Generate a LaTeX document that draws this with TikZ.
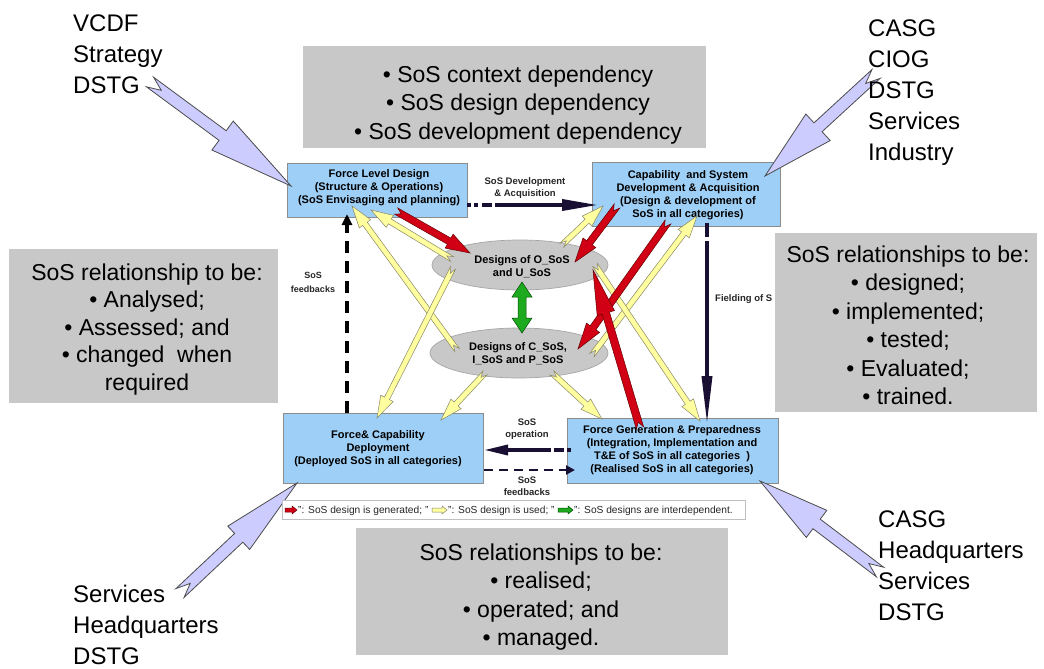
\documentclass[tikz,border=0pt]{standalone}
\usepackage{fontspec}
\setmainfont{Liberation Sans}
\usetikzlibrary{calc,arrows.meta,shapes.geometric}
\definecolor{graybox}{RGB}{200,200,200}
\definecolor{bluebox}{RGB}{158,207,246}
\definecolor{lav}{RGB}{204,204,255}
\definecolor{yel}{RGB}{255,255,160}
\definecolor{redar}{RGB}{210,0,20}
\definecolor{navy}{RGB}{25,15,50}
\definecolor{grn}{RGB}{30,170,30}
\newcommand{\fatarrow}[7]{%
  \coordinate (fah) at ($(#3)!#6!(#2)$);
  \coordinate (fan) at ($(#2)!#7!(#3)$);
  \filldraw[#1] ($(#2)!#4!90:(#3)$) -- ($(fah)!#4!90:(#3)$) -- ($(fah)!#5!90:(#3)$) -- (#3) -- ($(fah)!#5!-90:(#3)$) -- ($(fah)!#4!-90:(#3)$) -- ($(#2)!#4!-90:(#3)$) -- (fan) -- cycle;}
\tikzset{
  gbox/.style={fill=graybox, draw=none, inner sep=0, rectangle},
  gtext/.style={font=\fontsize{23}{28.5}\selectfont, inner sep=0, anchor=base},
  stk/.style={font=\fontsize{24}{31}\selectfont, inner sep=0, anchor=base west},
  bbox/.style={fill=bluebox, draw=black!45, line width=0.7pt, rectangle, inner sep=0},
  btext/.style={font=\bfseries\fontsize{11}{13.3}\selectfont, inner sep=0, anchor=base},
  ell/.style={ellipse, fill=graybox, draw=black!35, line width=0.7pt, inner sep=0},
  lbl/.style={font=\bfseries\fontsize{9.5}{12.5}\selectfont, text=black!85, inner sep=0, anchor=base},
  blk/.style={draw=navy, line width=3.5pt},
  yarr/.style={fill=yel, draw=black!55!yellow!60!gray, line width=0.5pt},
  rarr/.style={fill=redar, draw=red!40!black, line width=0.5pt},
  larr/.style={fill=lav, draw=black!70, line width=0.8pt},
  garr/.style={fill=grn, draw=green!30!black, line width=0.5pt},
  legtext/.style={font=\fontsize{10.2}{11}\selectfont, inner sep=0, anchor=base west, text=black!85},
}
\begin{document}
\begin{tikzpicture}[x=1pt,y=-1pt]
\useasboundingbox (0,0) rectangle (1044,669);
\fill[white] (0,0) rectangle (1044,669);

% blue boxes
\node[bbox, minimum width=180pt, minimum height=54pt] (fld) at (377.5,190) {};
\node[bbox, minimum width=188pt, minimum height=64pt] (csda) at (686,194.5) {};
\node[bbox, minimum width=200pt, minimum height=70pt] (fcd) at (383,448) {};
\node[bbox, minimum width=211pt, minimum height=65pt] (fgp) at (672.5,450.5) {};
\node[btext] (fldt) at (379,177) {\begin{tabular}[t]{@{}c@{}}Force Level Design\\(Structure \& Operations)\\(SoS Envisaging and planning)\end{tabular}};
\node[btext] (csdat) at (688,178) {\begin{tabular}[t]{@{}c@{}}Capability\ \ and System\\Development \& Acquisition\\(Design \& development of\\SoS in all categories)\end{tabular}};
\node[btext] (fcdt) at (378,438) {\begin{tabular}[t]{@{}c@{}}Force\& Capability\\Deployment\\(Deployed SoS in all categories)\end{tabular}};
\node[btext] (fgpt) at (672,433) {\begin{tabular}[t]{@{}c@{}}Force Generation \& Preparedness\\(Integration, Implementation and\\T\&E of SoS in all categories\ \ )\\(Realised SoS in all categories)\end{tabular}};

% ellipses
\node[ell, minimum width=176pt, minimum height=50pt] (eu) at (520,265) {};
\node[ell, minimum width=178pt, minimum height=50pt] (el) at (519,353) {};
\node[btext] (eut) at (522,263) {\begin{tabular}[t]{@{}c@{}}Designs of O\_SoS\\and U\_SoS\end{tabular}};
\node[btext] (elt) at (518,350) {\begin{tabular}[t]{@{}c@{}}Designs of C\_SoS,\\I\_SoS and P\_SoS\end{tabular}};

% black connectors
\coordinate (a1s) at (467,205);
\coordinate (a1e) at (598,205);
\draw[blk, dash pattern=on 4pt off 3pt on 4pt off 4pt on 10pt off 3pt on 400pt, -{Triangle[length=36pt,width=11pt]}] (a1s) -- (a1e);
\coordinate (a2s) at (707,223);
\coordinate (a2e) at (707,424);
\draw[blk, dash pattern=on 14pt off 4pt on 400pt, -{Triangle[length=48pt,width=10pt]}] (a2s) -- (a2e);
\coordinate (a3s) at (571,450);
\coordinate (a3e) at (484,450);
\draw[blk, dash pattern=on 4pt off 3pt on 10pt off 3pt on 400pt, -{Triangle[length=24pt,width=10pt]}] (a3s) -- (a3e);
\coordinate (a4s) at (484,470);
\coordinate (a4e) at (575,470);
\draw[navy, line width=2.6pt, dash pattern=on 9pt off 6pt, -{Triangle[length=9pt,width=9pt]}] (a4s) -- (a4e);
\coordinate (a5s) at (347,413);
\coordinate (a5e) at (347,214);
\draw[black, line width=3.5pt, dash pattern=on 12pt off 8pt, -{Triangle[length=11pt,width=10pt]}] (a5s) -- (a5e);

% connector labels
\node[lbl] (l1) at (525,184) {\begin{tabular}[t]{@{}c@{}}SoS Development\\\& Acquisition\end{tabular}};
\node[lbl] (l2) at (527,425) {\begin{tabular}[t]{@{}c@{}}SoS\\operation\end{tabular}};
\node[lbl] (l3) at (527,483) {\begin{tabular}[t]{@{}c@{}}SoS\\feedbacks\end{tabular}};
\node[lbl, font=\bfseries\fontsize{9}{14}\selectfont] (l4) at (313,278) {\begin{tabular}[t]{@{}c@{}}SoS\\feedbacks\end{tabular}};
\node[lbl, anchor=base west] (l5) at (715,301) {Fielding of S};

% yellow arrows (design is used)
\coordinate (y1t) at (452,259); \coordinate (y1h) at (371,210);
\coordinate (y2t) at (457,350); \coordinate (y2h) at (352,206);
\coordinate (y3t) at (453,268); \coordinate (y3h) at (377,418);
\coordinate (y4t) at (485,373); \coordinate (y4h) at (441,420);
\coordinate (y5t) at (562,245); \coordinate (y5h) at (603,206);
\coordinate (y6t) at (592,355); \coordinate (y6h) at (697,216);
\coordinate (y7t) at (595,265); \coordinate (y7h) at (700,421);
\coordinate (y8t) at (552,373); \coordinate (y8h) at (602,419);
\foreach \n in {1,...,8}{\fatarrow{yarr}{y\n t}{y\n h}{2.8pt}{7pt}{22pt}{6pt}}

% red arrows (design is generated)
\coordinate (r1t) at (396,211); \coordinate (r1h) at (470,253);
\coordinate (r2t) at (617,206); \coordinate (r2h) at (575,262);
\coordinate (r3t) at (668,222); \coordinate (r3h) at (578,349);
\coordinate (r4t) at (640,428); \coordinate (r4h) at (593,270);
\fatarrow{rarr}{r1t}{r1h}{3.5pt}{8pt}{24pt}{6pt}
\fatarrow{rarr}{r2t}{r2h}{3.5pt}{8pt}{24pt}{6pt}
\fatarrow{rarr}{r3t}{r3h}{3.5pt}{8pt}{26pt}{6pt}
\fatarrow{rarr}{r4t}{r4h}{3.8pt}{9pt}{45pt}{6pt}

% green interdependence arrow
\coordinate (g1) at (522,282);
\coordinate (g2) at (522,333);
\filldraw[garr] (g1) -- ($(g1)+(10,15)$) -- ($(g1)+(4,15)$) -- ($(g2)+(4,-15)$) -- ($(g2)+(10,-15)$) -- (g2) -- ($(g2)+(-10,-15)$) -- ($(g2)+(-4,-15)$) -- ($(g1)+(-4,15)$) -- ($(g1)+(-10,15)$) -- cycle;

% lavender stakeholder arrows
\coordinate (l1t) at (150,82);  \coordinate (l1h) at (291,186);
\coordinate (l2t) at (876,74);  \coordinate (l2h) at (765,176);
\coordinate (l3t) at (180,593); \coordinate (l3h) at (297,483);
\coordinate (l4t) at (880,572); \coordinate (l4h) at (760,481);
\fatarrow{larr}{l1t}{l1h}{6pt}{18pt}{85pt}{14pt}
\fatarrow{larr}{l2t}{l2h}{6pt}{18pt}{72pt}{14pt}
\fatarrow{larr}{l3t}{l3h}{6pt}{16pt}{80pt}{14pt}
\fatarrow{larr}{l4t}{l4h}{6pt}{17pt}{71pt}{14pt}

% gray boxes
\node[gbox, minimum width=403pt, minimum height=102pt] (gtop) at (504.5,97) {};
\node[gbox, minimum width=269pt, minimum height=154pt] (gleft) at (143.5,326) {};
\node[gbox, minimum width=262pt, minimum height=179pt] (gright) at (906,322.5) {};
\node[gbox, minimum width=372pt, minimum height=127pt] (gbot) at (542,591.5) {};
\node[gtext] (gtopt) at (518,82) {\begin{tabular}[t]{@{}c@{}}• SoS context dependency\\• SoS design dependency\\• SoS development dependency\end{tabular}};
\node[gtext, font=\fontsize{23}{27.5}\selectfont] (gleftt) at (147,280) {\begin{tabular}[t]{@{}c@{}}SoS relationship to be:\\• Analysed;\\• Assessed; and\\• changed\ \ when\\required\end{tabular}};
\node[gtext] (grightt) at (908,262) {\begin{tabular}[t]{@{}c@{}}SoS relationships to be:\\• designed;\\• implemented;\\• tested;\\• Evaluated;\\• trained.\end{tabular}};
\node[gtext] (gbott) at (541,560) {\begin{tabular}[t]{@{}c@{}}SoS relationships to be:\\• realised;\\• operated; and\\• managed.\end{tabular}};

% stakeholders
\node[stk] (s1) at (73,32) {\begin{tabular}[t]{@{}l@{}}VCDF\\Strategy\\DSTG\end{tabular}};
\node[stk] (s2) at (868,37) {\begin{tabular}[t]{@{}l@{}}CASG\\CIOG\\DSTG\\Services\\Industry\end{tabular}};
\node[stk] (s3) at (73,602) {\begin{tabular}[t]{@{}l@{}}Services\\Headquarters\\DSTG\end{tabular}};
\node[stk] (s4) at (878,527) {\begin{tabular}[t]{@{}l@{}}CASG\\Headquarters\\Services\\DSTG\end{tabular}};

% legend
\node[rectangle, draw=black!25, fill=white, line width=0.6pt, minimum width=463pt, minimum height=19pt, inner sep=0] (leg) at (513.5,509.5) {};
\coordinate (k1t) at (285,510); \coordinate (k1h) at (297,510);
\coordinate (k2t) at (432,510); \coordinate (k2h) at (447,510);
\coordinate (k3t) at (558,510); \coordinate (k3h) at (573,510);
\fatarrow{rarr}{k1t}{k1h}{2pt}{4pt}{5pt}{0pt}
\fatarrow{yarr}{k2t}{k2h}{2pt}{4pt}{5pt}{0pt}
\fatarrow{garr}{k3t}{k3h}{2pt}{4pt}{5pt}{0pt}
\node[legtext] (lg1) at (298,513.5) {": SoS design is generated; "};
\node[legtext] (lg2) at (448,513.5) {": SoS design is used; "};
\node[legtext] (lg3) at (574,513.5) {": SoS designs are interdependent.};
\end{tikzpicture}
\end{document}
